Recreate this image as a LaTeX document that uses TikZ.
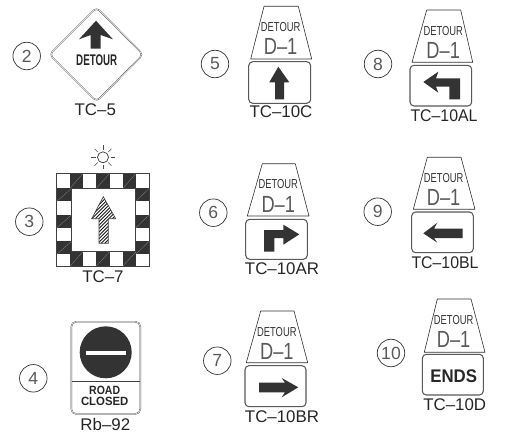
\documentclass[tikz,border=0pt]{standalone}
\usepackage{fontspec}
\setmainfont{Liberation Sans}
\usepackage{xcolor}
\usetikzlibrary{positioning}
\definecolor{signdark}{gray}{0.2}
\definecolor{signline}{gray}{0.35}
\tikzset{
  callout/.style={draw=black!80,circle,inner sep=0pt,minimum size=27.5*0.02cm,font=\fontsize{10}{10}\selectfont,text=black!65},
  code/.style={inner sep=0pt,font=\fontsize{9.6}{9.6}\selectfont,text=black!85},
  panel/.style={draw=signline,line width=0.6pt,rounded corners=0.08cm,fill=white},
  shield/.style={draw=black!80,line width=0.4pt,line join=round},
  glyph/.style={fill=signdark,draw=none},
  thin label/.style={inner sep=0pt,text=black!80},
  cell line/.style={draw=black!45,line width=0.15pt}
}
\begin{document}
\begin{tikzpicture}[x=0.02cm,y=-0.02cm]
\useasboundingbox (0,0) rectangle (507,433);
% numbers
\node[callout] (num2) at (26.7,56) {2};
\node[callout] (num3) at (29.3,221.7) {3};
\node[callout] (num4) at (33.3,378.3) {4};
\node[callout] (num5) at (215,64) {5};
\node[callout] (num6) at (213.3,212.7) {6};
\node[callout] (num7) at (217.3,360.7) {7};
\node[callout] (num8) at (378,64) {8};
\node[callout] (num9) at (377.7,211.7) {9};
\node[callout] (num10) at (391,353) {10};
% diamond sign
\draw[shield,line width=0.8pt,rounded corners=0.08cm,draw=black!70] (96.5,7.5) -- (143,54.5) -- (96.5,101.5) -- (49.5,54.5) -- cycle;
\draw[draw=white,line width=0.3pt,rounded corners=0.08cm] (96.5,7.5) -- (143,54.5) -- (96.5,101.5) -- (49.5,54.5) -- cycle;
\fill[glyph] (96,20.7) -- (113,39.3) -- (100.7,35) -- (100.7,48.7) -- (90.7,48.7) -- (90.7,35) -- (79,39.3) -- cycle;
\node[inner sep=0pt,font=\bfseries\fontsize{8.8}{8.8}\selectfont,text=black!85,xscale=0.63] (det2) at (96.7,60.5) {DETOUR};
\node[code] (lab2) at (95.3,109.5) {TC--5};
% checker sign
\draw[shield] (103,157.3) circle (5.5);
\foreach \a in {0,45,...,315}
  \draw[black!70,line width=0.3pt] (103,157.3) ++(\a:7.5) -- ++(\a:4.5);
\fill[white] (56.7,173.3) rectangle (149.3,266);
\foreach \c in {1,3,5}
{
  \fill[signdark] (56.7+\c*13.23,173.3) rectangle (56.7+\c*13.23+13.23,188.3);
  \draw[cell line] (56.7+\c*13.23,188.3) -- (56.7+\c*13.23+13.23,173.3);
  \fill[signdark] (56.7+\c*13.23,251.7) rectangle (56.7+\c*13.23+13.23,266);
  \draw[cell line] (56.7+\c*13.23,266) -- (56.7+\c*13.23+13.23,251.7);
  \fill[signdark] (56.7,175+\c*13.23) rectangle (71.7,175+\c*13.23+13.23);
  \draw[cell line] (56.7,175+\c*13.23+13.23) -- (71.7,175+\c*13.23);
  \fill[signdark] (135.7,175+\c*13.23) rectangle (149.3,175+\c*13.23+13.23);
  \draw[cell line] (135.7,175+\c*13.23+13.23) -- (149.3,175+\c*13.23);
}
\draw[black!75,line width=0.5pt] (56.7,173.3) rectangle (149.3,266);
\draw[black!75,line width=0.5pt] (71.7,188.3) rectangle (135.7,251.7);
\begin{scope}
\clip (103.3,196.7) -- (115.7,218.7) -- (108.3,218.7) -- (108.3,243.3) -- (99,243.3) -- (99,218.7) -- (91.7,218.7) -- cycle;
\foreach \h in {180,181.7,...,360}
  \draw[black!90,line width=0.5pt] (0+\h-180+40,\h+60) -- (100+\h-180+40,\h-40);
\end{scope}
\draw[black!75,line width=0.35pt] (103.3,196.7) -- (115.7,218.7) -- (108.3,218.7) -- (108.3,243.3) -- (99,243.3) -- (99,218.7) -- (91.7,218.7) -- cycle;
\node[code] (lab3) at (103,276.5) {TC--7};
% road closed sign
\draw[shield,line width=0.8pt,rounded corners=0.1cm,draw=black!70] (71.3,321.7) rectangle (140.3,414);
\draw[draw=white,line width=0.3pt,rounded corners=0.1cm] (71.3,321.7) rectangle (140.3,414);
\draw[black!75,line width=0.4pt] (71.8,381) -- (139.8,381);
\fill[signdark] (105.7,352.3) circle (26);
\fill[white] (86,350.7) rectangle (126,354.7);
\node[inner sep=0pt,font=\bfseries\fontsize{6.8}{6.8}\selectfont,text=black!85,xscale=0.88] (road) at (104.7,390) {ROAD};
\node[inner sep=0pt,font=\bfseries\fontsize{6.8}{6.8}\selectfont,text=black!85,xscale=0.95] (closed) at (104.7,401.5) {CLOSED};
\node[code] (lab4) at (105.3,424.7) {Rb--92};
% detour panels
\foreach \xa/\xb/\xc/\xd/\ya/\yb/\xe/\xf/\yc/\yd/\t in {
  264/298.3/250.7/311.7/6.3/59/248.7/310.7/61.7/103.3/5,
  262.3/295.3/247.3/309/163.7/216/245.7/307.3/219.3/259.3/6,
  260.7/294/246.3/307.7/311/362.7/245/306/365.7/406.7/7,
  426.7/460.7/412/472.7/10/62.3/410/471.7/65.3/106/8,
  427.3/461/413.3/475/157.3/209.3/411.7/473.3/212/252.7/9,
  437.3/471/424.3/485/299/352.3/422.3/483.3/354.3/395/10}
{
  \draw[shield,line width=0.35pt] (\xa,\ya) -- (\xb,\ya) -- (\xd,\yb) -- (\xc,\yb) -- cycle;
  \node[thin label,font=\fontsize{7.4}{7.4}\selectfont,xscale=0.72] (top\t) at ({(\xa+\xb)/2-0.5},\ya+20.8) {DETOUR};
  \node[thin label,font=\fontsize{13.3}{13.3}\selectfont,text=black!65,xscale=0.78] (d\t) at ({(\xa+\xb)/2-0.5},\ya+40.3) {D--1};
  \draw[panel] (\xe,\yc) rectangle (\xf,\yd);
}
% arrows
\fill[glyph] (278.3,66.7) -- (289.3,82.3) -- (284,82.3) -- (284,99.3) -- (275,99.3) -- (275,82.3) -- (269.3,82.3) -- cycle;
\fill[glyph] (299.3,234.3) -- (283.3,224.7) -- (283.3,230) -- (264,230) -- (264,251.7) -- (274.3,251.7) -- (274.3,238) -- (283.3,238) -- (283.3,244.7) -- cycle;
\fill[glyph] (298.3,387.3) -- (281.7,378) -- (285,382.7) -- (259,382.7) -- (259,392.3) -- (285,392.3) -- (281.7,397.3) -- cycle;
\fill[glyph] (423.3,82) -- (438.3,71.7) -- (436,78.3) -- (460,78.3) -- (460,99.3) -- (449.3,99.3) -- (449.3,86.7) -- (436,86.7) -- (438.3,92.7) -- cycle;
\fill[glyph] (423.3,233.3) -- (437.3,222.7) -- (434,228.7) -- (462.7,228.7) -- (462.7,238) -- (434,238) -- (437.3,242.7) -- cycle;
\node[inner sep=0pt,font=\bfseries\fontsize{10.4}{10.4}\selectfont,text=black!85,xscale=0.92] (ends) at (453.7,375.8) {ENDS};
% sign codes
\node[code] (lab5) at (281,112) {TC--10C};
\node[code] (lab6) at (282,269) {TC--10AR};
\node[code] (lab7) at (282,417) {TC--10BR};
\node[code,xscale=0.94] (lab8) at (444,115.5) {TC--10AL};
\node[code,xscale=0.94] (lab9) at (445,263) {TC--10BL};
\node[code] (lab10) at (454.7,405) {TC--10D};
\end{tikzpicture}
\end{document}
